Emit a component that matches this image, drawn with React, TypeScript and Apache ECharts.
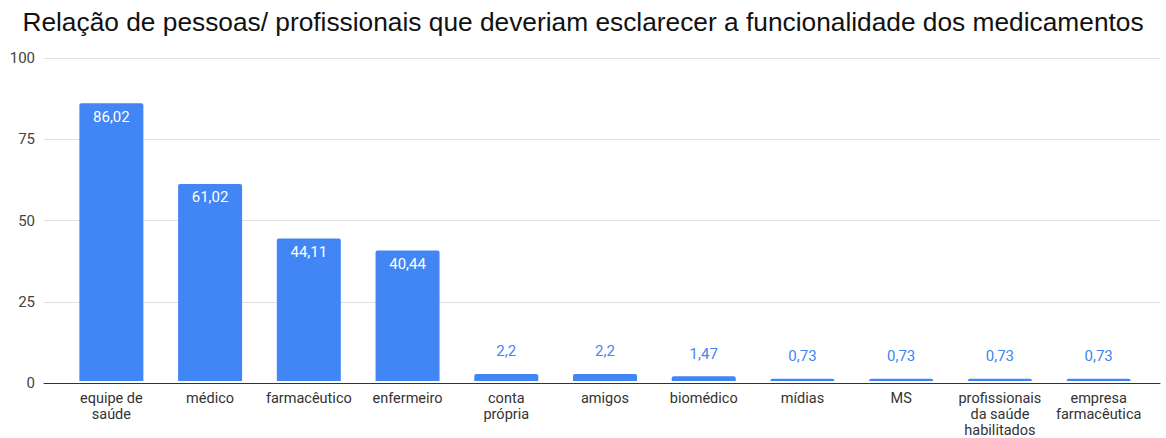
import React, { useEffect, useRef } from "react";
import * as echarts from "echarts";

const title = "Relação de pessoas/ profissionais que deveriam esclarecer a funcionalidade dos medicamentos";
const categories = [
  "equipe de\nsaúde",
  "médico",
  "farmacêutico",
  "enfermeiro",
  "conta\nprópria",
  "amigos",
  "biomédico",
  "mídias",
  "MS",
  "profissionais\nda saúde\nhabilitados",
  "empresa\nfarmacêutica",
];
const values = [86.02, 61.02, 44.11, 40.44, 2.2, 2.2, 1.47, 0.73, 0.73, 0.73, 0.73];
const yTicks = [0, 25, 50, 75, 100];

const BLUE = "#4285F4";
const FONT = "Roboto, Arial, sans-serif";
const TITLE_FONT = "'Liberation Sans', Arial, sans-serif";

export default function App() {
  const ref = useRef<HTMLDivElement>(null);
  useEffect(() => {
    const chart = echarts.init(ref.current!, null, { renderer: "svg" });
    const fmt = (v: number) => String(v).replace(".", ",");
    const data = values.map((v) => ({
      value: v,
      label:
        v > 10
          ? { show: true, position: "insideTop", distance: 6, color: "#fff" }
          : { show: true, position: "top", distance: 15, color: BLUE, textBorderColor: "#fff", textBorderWidth: 2 },
    }));
    chart.setOption({
      animation: false,
      textStyle: { fontFamily: FONT },
      title: {
        text: title,
        left: "center",
        top: 4,
        textStyle: { fontFamily: TITLE_FONT, fontSize: 26.3, fontWeight: "normal", color: "#111" },
      },
      grid: [
        { left: 44, right: 6, top: 58, bottom: 55 },
        { left: 62, right: 18, top: 58, bottom: 55 },
      ],
      xAxis: [
        {
          gridIndex: 0,
          type: "value",
          min: 0,
          max: 1,
          axisLine: { show: true, onZero: true, lineStyle: { color: "#333", width: 1 } },
          axisTick: { show: false },
          axisLabel: { show: false },
          splitLine: { show: false },
        },
        {
          gridIndex: 1,
          type: "category",
          data: categories,
          axisLine: { show: false },
          axisTick: { show: false },
          axisLabel: {
            interval: 0,
            margin: 9,
            fontSize: 14.5,
            lineHeight: 16,
            color: "#333",
            fontFamily: FONT,
          },
        },
      ],
      yAxis: [
        {
          gridIndex: 0,
          type: "value",
          min: yTicks[0],
          max: yTicks[yTicks.length - 1],
          interval: 25,
          axisLine: { show: false },
          axisTick: { show: false },
          axisLabel: { fontSize: 15, color: "#444", margin: 9, fontFamily: FONT },
          splitLine: { lineStyle: { color: "#e0e0e0", width: 1 } },
        },
        {
          gridIndex: 1,
          type: "value",
          min: yTicks[0],
          max: yTicks[yTicks.length - 1],
          interval: 25,
          show: false,
          splitLine: { show: false },
        },
      ],
      series: [
        {
          type: "bar",
          xAxisIndex: 1,
          yAxisIndex: 1,
          data,
          barWidth: 64,
          itemStyle: { color: BLUE, borderRadius: [2, 2, 0, 0] },
          label: {
            show: true,
            fontSize: 15,
            fontFamily: FONT,
            formatter: (p: any) => fmt(p.value),
          },
          z: 3,
        },
      ],
    });
    return () => chart.dispose();
  }, []);
  return <div ref={ref} style={{ width: 1166, height: 438, position: "absolute", left: 0, top: 0 }} />;
}
